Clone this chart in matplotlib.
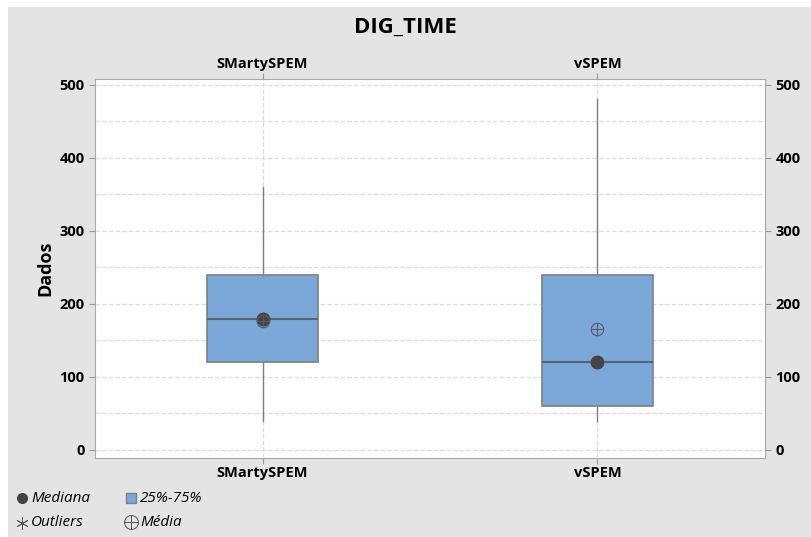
import matplotlib.pyplot as plt
from matplotlib.patches import Rectangle
from matplotlib.lines import Line2D
from matplotlib.ticker import MultipleLocator

plt.rcParams['font.family'] = ['Open Sans', 'DejaVu Sans']

groups = ['SMartySPEM', 'vSPEM']
whis_low = [40, 40]
q1 = [120, 60]
median = [180, 120]
q3 = [240, 240]
whis_high = [360, 480]
mean = [177, 165]

bg = '#e4e4e4'
box_color = '#7ba7d9'
edge = '#7a8088'

W, H = 811, 537
fig = plt.figure(figsize=(8.11, 5.37), dpi=100, facecolor='white')
fig.add_artist(Rectangle((8 / W, 0), 1, 1 - 7 / H, transform=fig.transFigure,
                         facecolor=bg, edgecolor='none', zorder=-10))

ax = fig.add_axes([95 / W, 1 - 458 / H, 670 / W, 379 / H])
pos = [1, 2]

stats = []
for i, g in enumerate(groups):
    stats.append(dict(label=g, whislo=whis_low[i], q1=q1[i], med=median[i],
                      q3=q3[i], whishi=whis_high[i], fliers=[]))

ax.bxp(stats, positions=pos, widths=0.334, patch_artist=True, showcaps=False,
       boxprops=dict(facecolor=box_color, edgecolor=edge, linewidth=1.2),
       medianprops=dict(color='#5a6270', linewidth=1.5),
       whiskerprops=dict(color=edge, linewidth=1.0), zorder=3)

ax.plot(pos, median, 'o', color='#444444', markersize=9, zorder=5)
ax.plot(pos, mean, 'o', markerfacecolor='none', markeredgecolor='#555a66',
        markersize=9, markeredgewidth=0.8, zorder=6)
ax.plot(pos, mean, '+', color='#555a66', markersize=9, markeredgewidth=0.8, zorder=6)

ax.set_xlim(0.5, 2.5)
ax.set_ylim(-11, 508)
ax.yaxis.set_major_locator(MultipleLocator(100))
ax.yaxis.set_minor_locator(MultipleLocator(50))
ax.set_xticks(pos)
ax.set_xticklabels(groups, fontsize=10.5, fontweight='bold')
ax.tick_params(axis='y', which='both', labelsize=10.5, left=True, right=True,
               labelright=True, color='#999999', length=4)
ax.tick_params(axis='y', which='minor', length=0)
ax.tick_params(axis='x', color='#999999', length=4, top=True, labeltop=True, pad=2)
for lab in ax.get_yticklabels():
    lab.set_fontweight('bold')
for lab in ax.get_xticklabels():
    lab.set_fontweight('bold')

ax.grid(True, which='both', axis='y', linestyle='--', color='#dddddd', linewidth=0.9, zorder=0)
ax.grid(True, axis='x', linestyle='--', color='#dddddd', linewidth=0.9, zorder=0)
ax.set_axisbelow(True)
for s in ax.spines.values():
    s.set_color('#aaaaaa')

ax.set_ylabel('Dados', fontsize=13, fontweight='bold', labelpad=4)
fig.text(0.5, 1 - 27 / H, 'DIG_TIME', ha='center', va='center', fontsize=16, fontweight='bold')

# legend drawn by hand at the bottom left
def legend_item(x, y, label, **mk):
    fig.add_artist(Line2D([x / W], [1 - y / H], transform=fig.transFigure, linestyle='none', **mk))
    fig.text((x + 9) / W, 1 - y / H, label, ha='left', va='center', fontsize=11, style='italic')

legend_item(22, 498, 'Mediana', marker='o', color='#444444', markersize=7)
legend_item(22, 523, 'Outliers', marker=(6, 2, 0), color='#555555', markersize=9, markeredgewidth=0.6)
legend_item(131, 498, '25%-75%', marker='s', markerfacecolor=box_color, markeredgecolor=edge, markersize=7)
legend_item(131, 522, 'Média', marker='o', markerfacecolor='none', markeredgecolor='#555555',
            markersize=10, markeredgewidth=0.7)
legend_item(131, 522, '', marker='+', color='#555555', markersize=10, markeredgewidth=0.7)

fig.savefig('out.png', dpi=100, facecolor=fig.get_facecolor())
